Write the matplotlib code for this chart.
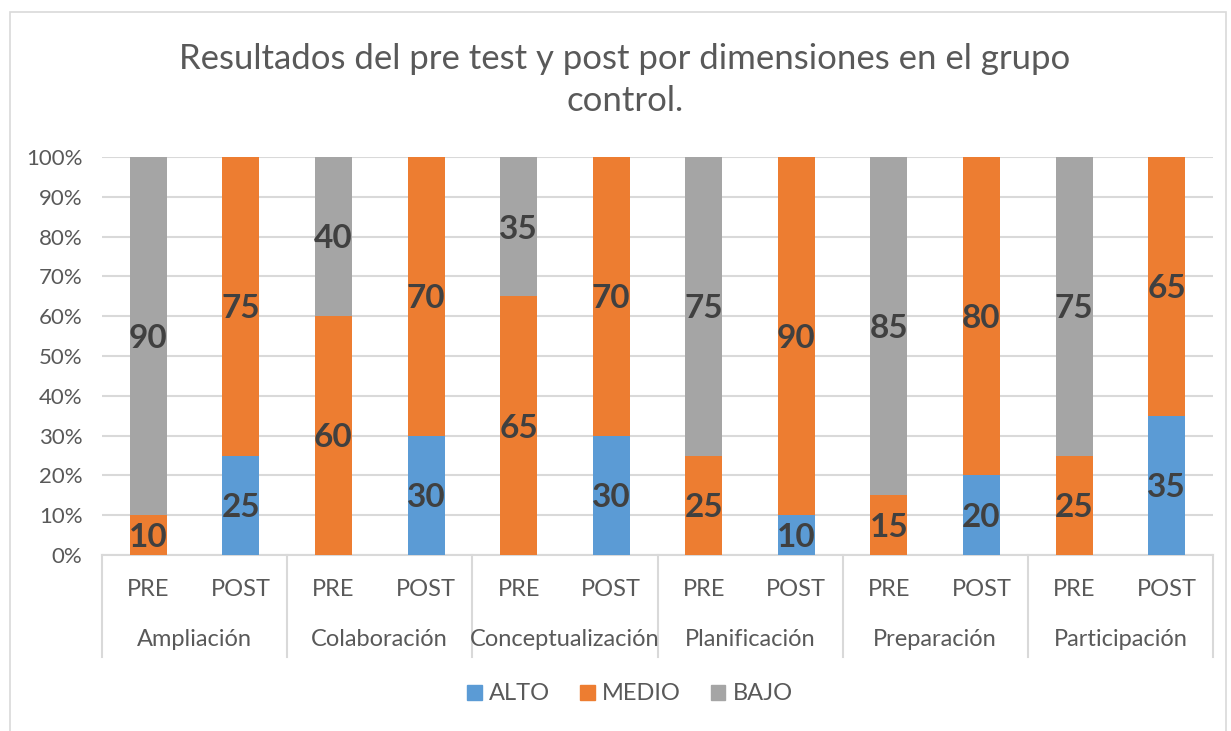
import numpy as np
import matplotlib
matplotlib.use("Agg")
import matplotlib.pyplot as plt
from matplotlib.patches import Rectangle, Patch
import matplotlib.transforms as mtransforms

plt.rcParams['font.family'] = ['Lato', 'DejaVu Sans']

# === Datos ===
dimensiones = ["Ampliación", "Colaboración", "Conceptualización",
               "Planificación", "Preparación", "Participación"]
momentos = ["PRE", "POST"]
alto = [0, 25, 0, 30, 0, 30, 0, 10, 0, 20, 0, 35]
medio = [10, 75, 60, 70, 65, 70, 25, 90, 15, 80, 25, 65]
bajo = [90, 0, 40, 0, 35, 0, 75, 0, 85, 0, 75, 0]
y_ticks = [0, 10, 20, 30, 40, 50, 60, 70, 80, 90, 100]

colores = {"ALTO": "#5B9BD5", "MEDIO": "#ED7D31", "BAJO": "#A5A5A5"}
gris_texto = "#595959"
gris_etiqueta = "#404040"

W, H = 1231, 731
fig = plt.figure(figsize=(W / 100, H / 100), dpi=100)

# marco del grafico
fig.patches.append(Rectangle((10 / W, -0.01), 1216 / W, (H - 12) / H + 0.01,
                             transform=fig.transFigure, fill=False,
                             edgecolor="#D9D9D9", linewidth=1.2))

ax = fig.add_axes([102 / W, (H - 555) / H, 1111 / W, 398 / H])

x = np.arange(len(alto))
series = [("ALTO", alto), ("MEDIO", medio), ("BAJO", bajo)]
base = np.zeros(len(alto))
for nombre, vals in series:
    vals = np.array(vals, dtype=float)
    ax.bar(x, vals, 0.4, bottom=base, color=colores[nombre], zorder=3)
    for xi, b, v in zip(x, base, vals):
        if v > 0:
            ax.text(xi, b + v / 2 - 0.6, f"{int(v)}", ha="center", va="center",
                    fontsize=24, fontweight="bold", color=gris_etiqueta, zorder=4)
    base += vals

ax.set_xlim(-0.5, len(alto) - 0.5)
ax.set_ylim(0, 100)
ax.set_yticks(y_ticks)
ax.set_yticklabels([f"{t}%" for t in y_ticks], fontsize=16, color=gris_texto)
ax.tick_params(axis="y", length=0, pad=14)
ax.set_xticks([])
ax.yaxis.grid(True, color="#D9D9D9", linewidth=1.5, zorder=0)
for s in ["top", "right", "left"]:
    ax.spines[s].set_visible(False)
ax.spines["bottom"].set_color("#D9D9D9")
ax.spines["bottom"].set_linewidth(1.5)

# eje de categorias en dos niveles
trans = mtransforms.blended_transform_factory(ax.transData, ax.transAxes)
for i in x:
    ax.text(i, -34 / 398, momentos[i % 2], ha="center", va="center",
            fontsize=17, color=gris_texto, transform=trans)
for g, nombre in enumerate(dimensiones):
    ax.text(2 * g + 0.5, -85 / 398, nombre, ha="center", va="center",
            fontsize=17, color=gris_texto, transform=trans)
for sep in np.arange(-0.5, len(alto), 2):
    ax.plot([sep, sep], [0, -102 / 398], color="#D9D9D9", linewidth=1.5,
            transform=trans, clip_on=False)

fig.text(625 / W, 1 - 80 / H, "Resultados del pre test y post por dimensiones en el grupo\ncontrol.",
         ha="center", va="center", fontsize=25, color=gris_texto, linespacing=1.4)

handles = [Patch(color=colores[n]) for n in ["ALTO", "MEDIO", "BAJO"]]
fig.legend(handles, ["ALTO", "MEDIO", "BAJO"], loc="center",
           bbox_to_anchor=(630 / W, 1 - 694 / H), ncol=3, frameon=False,
           fontsize=17, labelcolor=gris_texto, handlelength=0.6, handleheight=0.6,
           handletextpad=0.3, columnspacing=1.3)

fig.savefig("out.png", dpi=100, facecolor="white")
